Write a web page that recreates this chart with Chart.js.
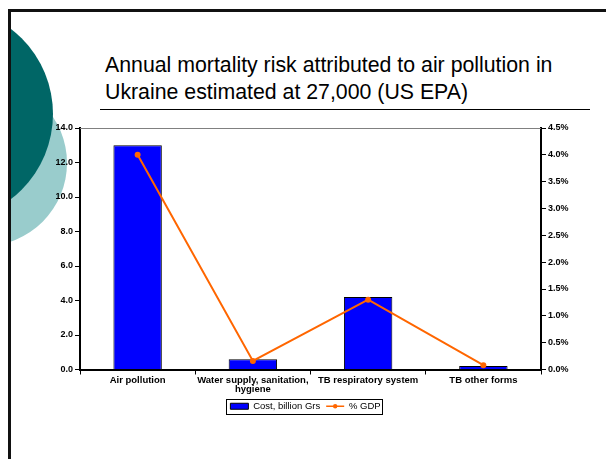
<!DOCTYPE html>
<html>
<head>
<meta charset="utf-8">
<script src="https://cdn.jsdelivr.net/npm/chart.js@4/dist/chart.umd.min.js"></script>
<style>
  body { margin: 0; background: #fff; }
  #slide { position: relative; width: 606px; height: 459px; overflow: hidden; background: #fff; }
  #frame { position: absolute; left: 8px; top: 9px; width: 620px; height: 480px;
           border-left: 3px solid #111; border-top: 3px solid #111; }
  #deco { position: absolute; left: 11px; top: 0; width: 100px; height: 459px; overflow: hidden; }
  .circle { position: absolute; border-radius: 50%; }
  #light { left: -110px; top: 80px; width: 166px; height: 166px; background: #99cccc; }
  #dark { left: -172px; top: 7px; width: 214px; height: 214px; background: #006666; }
  #title { position: absolute; left: 105px; top: 52px; font: 21.3px "Liberation Sans", Arial, sans-serif;
           line-height: 27px; color: #000; }
  #rule { position: absolute; left: 100px; top: 109px; width: 490px; height: 1px; background: #000; }
  #canvas { position: absolute; left: 0; top: 0; }
</style>
</head>
<body>
<div id="slide">
  <div id="deco">
    <div class="circle" id="light"></div>
    <div class="circle" id="dark"></div>
  </div>
  <div id="frame"></div>
  <div id="title">Annual mortality risk attributed to air pollution in<br>Ukraine estimated at 27,000 (US EPA)</div>
  <div id="rule"></div>
  <canvas id="canvas" width="606" height="459"></canvas>
</div>
<script>
var categories = ['Air pollution', ['Water supply, sanitation,', 'hygiene'], 'TB respiratory system', 'TB other forms'];
var costValues = [13.0, 0.6, 4.2, 0.2];      // billion Grs
var gdpValues = [4.0, 0.16, 1.3, 0.08];      // % GDP
var costTicks = { min: 0, max: 14, step: 2 };
var gdpTicks = { min: 0, max: 4.5, step: 0.5 };

var fontFamily = '"Liberation Sans", Arial, sans-serif';
var yFont = { family: fontFamily, size: 9, weight: 'bold' };
var xFont = { family: fontFamily, size: 9.5, weight: 'bold', lineHeight: 0.95 };

var frameLines = {
        id: 'frameLines',
        afterDraw: function(chart) {
                var ctx = chart.ctx;
                var a = chart.chartArea;
                ctx.save();
                // grey top edge of plot area
                ctx.strokeStyle = '#808080';
                ctx.lineWidth = 1;
                ctx.beginPath();
                ctx.moveTo(a.left, a.top + 0.5);
                ctx.lineTo(a.right, a.top + 0.5);
                ctx.stroke();
                // legend box
                var boxes = chart.legend.legendHitBoxes;
                var items = chart.legend.legendItems;
                if (boxes && boxes.length) {
                        var l = Math.min.apply(null, boxes.map(function(b) { return b.left; }));
                        var r = Math.max.apply(null, boxes.map(function(b) { return b.left + b.width; }));
                        var t = Math.min.apply(null, boxes.map(function(b) { return b.top; }));
                        var h = Math.max.apply(null, boxes.map(function(b) { return b.height; }));
                        ctx.strokeStyle = '#000';
                        ctx.lineWidth = 1;
                        ctx.strokeRect(Math.round(l - 4) + 0.5, Math.round(t - 3) + 0.5, Math.round(r - l + 6), Math.round(h + 5));
                        // marker on the line sample
                        for (var i = 0; i < items.length; i++) {
                                if (items[i].datasetIndex === 1) {
                                        var b1 = boxes[i];
                                        ctx.fillStyle = '#ff6600';
                                        ctx.beginPath();
                                        ctx.arc(b1.left + 9, b1.top + b1.height / 2, 2.2, 0, Math.PI * 2);
                                        ctx.fill();
                                }
                        }
                }
                ctx.restore();
        }
};

var config = {
        type: 'bar',
        data: {
                labels: categories,
                datasets: [{
                        label: 'Cost, billion Grs',
                        data: costValues,
                        backgroundColor: '#0000ff',
                        borderColor: '#000',
                        borderWidth: 1,
                        categoryPercentage: 1,
                        barPercentage: 0.42,
                        yAxisID: 'y',
                        order: 2
                }, {
                        type: 'line',
                        label: '% GDP',
                        data: gdpValues,
                        borderColor: '#ff6600',
                        backgroundColor: '#ff6600',
                        borderWidth: 2,
                        pointRadius: 2,
                        pointStyle: 'circle',
                        tension: 0,
                        yAxisID: 'y1',
                        order: 1
                }]
        },
        options: {
                responsive: false,
                animation: false,
                layout: { padding: { left: 40, right: 35, top: 128, bottom: 38 } },
                plugins: {
                        title: { display: false },
                        tooltip: { enabled: false },
                        legend: {
                                position: 'bottom',
                                labels: {
                                        usePointStyle: true,
                                        pointStyleWidth: 18,
                                        boxHeight: 6,
                                        padding: 6,
                                        color: '#000',
                                        font: { family: fontFamily, size: 9.5 },
                                        sort: function(a, b) { return a.datasetIndex - b.datasetIndex; },
                                        generateLabels: function(chart) {
                                                var items = Chart.defaults.plugins.legend.labels.generateLabels(chart);
                                                items.forEach(function(item) {
                                                        if (item.datasetIndex === 0) {
                                                                item.pointStyle = 'rect';
                                                                item.fillStyle = '#0000ff';
                                                                item.strokeStyle = '#000';
                                                                item.lineWidth = 1;
                                                        } else {
                                                                item.pointStyle = 'line';
                                                                item.strokeStyle = '#ff6600';
                                                                item.lineWidth = 1.5;
                                                        }
                                                });
                                                return items;
                                        }
                                }
                        }
                },
                scales: {
                        x: {
                                grid: { display: true, drawOnChartArea: false, offset: true, color: '#000', tickLength: 5 },
                                border: { color: '#000', width: 2 },
                                ticks: { color: '#000', font: xFont, padding: 1, maxRotation: 0, autoSkip: false },
                                afterFit: function(s) { s.height = 26; }
                        },
                        y: {
                                position: 'left',
                                min: costTicks.min,
                                max: costTicks.max,
                                grid: { display: true, drawOnChartArea: false, color: '#000', tickLength: 5 },
                                border: { color: '#000', width: 2 },
                                ticks: {
                                        stepSize: costTicks.step,
                                        color: '#000',
                                        font: yFont,
                                        padding: 2,
                                        callback: function(v) { return v.toFixed(1); }
                                },
                                afterFit: function(s) { s.width = 40; }
                        },
                        y1: {
                                position: 'right',
                                min: gdpTicks.min,
                                max: gdpTicks.max,
                                grid: { display: true, drawOnChartArea: false, color: '#000', tickLength: 5 },
                                border: { color: '#000', width: 2 },
                                ticks: {
                                        stepSize: gdpTicks.step,
                                        color: '#000',
                                        font: yFont,
                                        padding: 2,
                                        callback: function(v) { return v.toFixed(1) + '%'; }
                                },
                                afterFit: function(s) { s.width = 30; }
                        }
                }
        },
        plugins: [frameLines]
};

window.onload = function() {
        var ctx = document.getElementById('canvas').getContext('2d');
        window.myChart = new Chart(ctx, config);
};
</script>
</body>
</html>
